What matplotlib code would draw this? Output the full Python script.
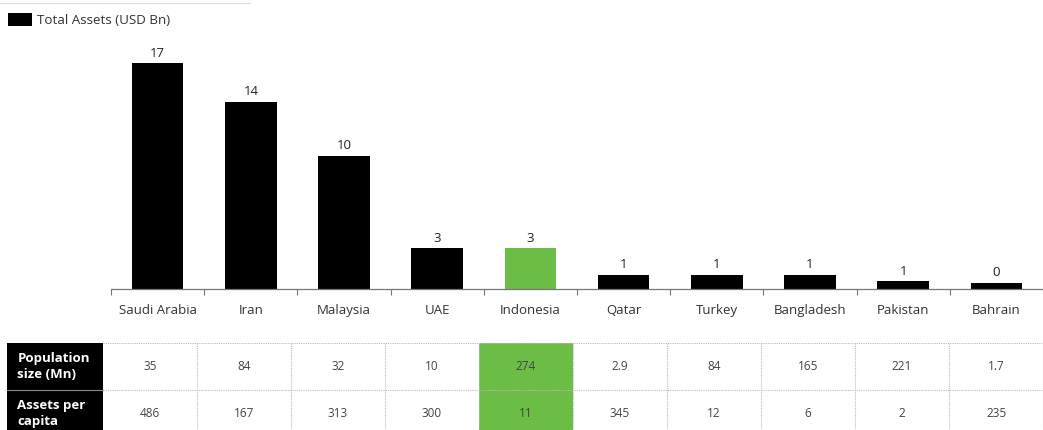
import matplotlib
matplotlib.use("Agg")
import matplotlib.pyplot as plt
from matplotlib.patches import Rectangle
from matplotlib.lines import Line2D

plt.rcParams['font.family'] = ['Open Sans', 'DejaVu Sans']

# ---- data ----
countries = ["Saudi Arabia", "Iran", "Malaysia", "UAE", "Indonesia",
             "Qatar", "Turkey", "Bangladesh", "Pakistan", "Bahrain"]
total_assets = [17.0, 14.1, 10.0, 3.05, 3.05, 1.05, 1.05, 1.05, 0.55, 0.45]
asset_labels = ["17", "14", "10", "3", "3", "1", "1", "1", "1", "0"]
population = [35, 84, 32, 10, 274, 2.9, 84, 165, 221, 1.7]
assets_per_capita = [486, 167, 313, 300, 11, 345, 12, 6, 2, 235]
row_headers = ["Population\nsize (Mn)", "Assets per\ncapita"]
highlight = "Indonesia"
series_name = "Total Assets (USD Bn)"

BLACK = "#000000"
GREEN = "#6cbd45"

W, H = 1043, 430
fig = plt.figure(figsize=(W / 100, H / 100), dpi=100)

# ---- bar chart ----
slot = 93.8
left_px = 111.0
base_px = 288.5
top_px = 23.5
ax = fig.add_axes([left_px / W, (H - base_px) / H, (W - left_px) / W, (base_px - top_px) / H])
colors = [GREEN if c == highlight else BLACK for c in countries]
x = list(range(len(countries)))
bars = ax.bar(x, total_assets, width=0.555, color=colors, label=series_name, zorder=2)
ax.set_xlim(-0.5, -0.5 + (W - left_px) / slot)
ax.set_ylim(0, (base_px - top_px) / 13.26)
for b, lab in zip(bars, asset_labels):
    ax.annotate(lab, (b.get_x() + b.get_width() / 2, b.get_height()),
                xytext=(0, 2.5), textcoords="offset points",
                ha="center", va="bottom", fontsize=9.5, color="#222222")
ax.set_xticks(x)
ax.set_xticklabels(countries, fontsize=9.5, color="#333333")
ax.tick_params(axis="x", which="major", length=0, pad=11)
ax.set_xticks([i - 0.5 for i in range(len(countries) + 1)], minor=True)
ax.tick_params(axis="x", which="minor", length=4, width=0.8, color="#777777", direction="out")
ax.set_yticks([])
for s in ["top", "right", "left"]:
    ax.spines[s].set_visible(False)
ax.spines["bottom"].set_color("#777777")
ax.spines["bottom"].set_linewidth(0.9)

leg = ax.legend(loc="upper left", bbox_to_anchor=(7 / W, 1 - 12 / H),
                bbox_transform=fig.transFigure, frameon=False, fontsize=9.6,
                handlelength=1.75, handleheight=1.05, handletextpad=0.4,
                borderpad=0.1, borderaxespad=0)
for t in leg.get_texts():
    t.set_color("#333333")

# faint line at top
fig.add_artist(Line2D([0, 250 / W], [1 - 3 / H, 1 - 3 / H], transform=fig.transFigure,
                      color="#dddddd", lw=0.8))

# ---- table ----
t_left, t_right = 7.3, 1043.0
t_top = 342.7
row_h = 47.3
col_w = 94.0
hdr_w = 103.0 - t_left
tab = fig.add_axes([t_left / W, 0, (t_right - t_left) / W, (H - t_top) / H])
tab.set_xlim(-hdr_w / col_w, (t_right - 103.0) / col_w)
tab.set_ylim((H - t_top) / row_h, 0)
tab.axis("off")

rows = [population, assets_per_capita]
n = len(countries)
for r, (hdr, vals) in enumerate(zip(row_headers, rows)):
    tab.add_patch(Rectangle((-hdr_w / col_w, r), hdr_w / col_w, 1, facecolor=BLACK,
                            edgecolor="none", clip_on=True))
    tab.text(-hdr_w / col_w + 10 / col_w, r + 0.5, hdr, ha="left", va="center",
             color="white", fontsize=9.5, fontweight="bold", linespacing=1.3)
    for c, v in enumerate(vals):
        if countries[c] == highlight:
            tab.add_patch(Rectangle((c, r), 1, 1, facecolor=GREEN, edgecolor="none"))
        tab.text(c + 0.5, r + 0.5, f"{v:g}", ha="center", va="center",
                 fontsize=8.5, color="#444444")

# header row separator
tab.plot([-hdr_w / col_w, 0], [1, 1], color="#888888", lw=0.8)
# dotted grid
for r in range(len(rows)):
    tab.plot([0, n], [r, r], color="#bbbbbb", lw=0.8, ls=(0, (1, 1)))
for c in range(1, n + 1):
    tab.plot([c, c], [0, 2], color="#bbbbbb", lw=0.8, ls=(0, (1, 1)))

fig.savefig("out.png", dpi=100, facecolor="white")
